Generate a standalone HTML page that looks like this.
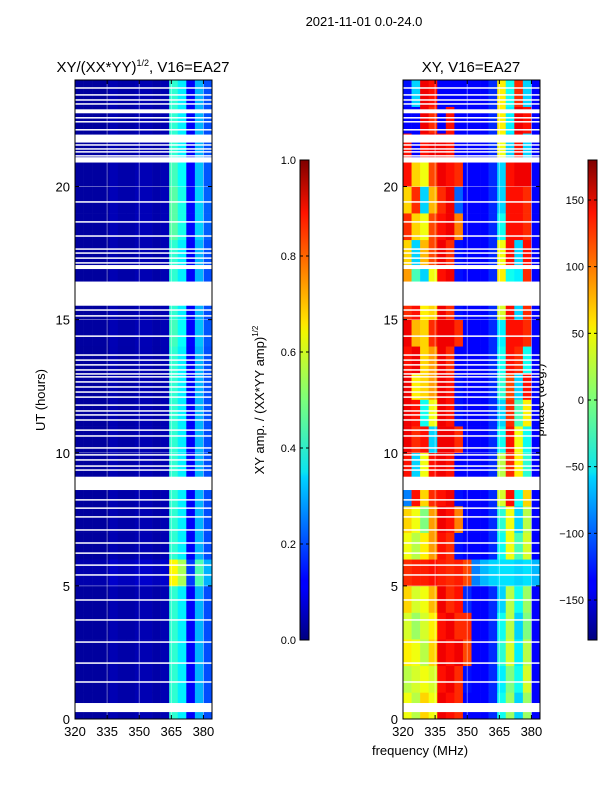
<!DOCTYPE html>
<html><head><meta charset="utf-8"><style>
body{margin:0;background:#fff;}
svg text{font-family:"Liberation Sans",sans-serif;fill:#000;}
</style></head><body>
<svg id="fig" width="600" height="800" xmlns="http://www.w3.org/2000/svg">
<defs>
<linearGradient id="jet" x1="0" y1="1" x2="0" y2="0">
<stop offset="0" stop-color="#00007f"/><stop offset="0.11" stop-color="#0000ff"/><stop offset="0.125" stop-color="#0000ff"/>
<stop offset="0.34" stop-color="#00d4ff"/><stop offset="0.35" stop-color="#0ae4f0"/><stop offset="0.5" stop-color="#7bff7b"/>
<stop offset="0.64" stop-color="#f0f700"/><stop offset="0.66" stop-color="#ffe600"/><stop offset="0.89" stop-color="#ff1300"/>
<stop offset="1" stop-color="#7f0000"/></linearGradient>
</defs>
<text x="364" y="26" font-size="13" text-anchor="middle">2021-11-01 0.0-24.0</text>
<text x="143" y="72" font-size="15" text-anchor="middle">XY/(XX*YY)<tspan font-size="9" dy="-6">1/2</tspan><tspan dy="6">, V16=EA27</tspan></text>
<text x="471" y="72" font-size="15" text-anchor="middle">XY, V16=EA27</text>
<text x="45" y="400" font-size="13" text-anchor="middle" transform="rotate(-90 45 400)">UT (hours)</text>
<text x="420" y="755" font-size="13" text-anchor="middle">frequency (MHz)</text>
<text x="264" y="400" font-size="13" text-anchor="middle" transform="rotate(-90 264 400)">XY amp. / (XX*YY amp)<tspan font-size="8" dy="-6">1/2</tspan></text>
<text x="544" y="400" font-size="13" text-anchor="middle" transform="rotate(-90 544 400)">phase (deg.)</text>
<g id="left"></g>
<g id="right"></g>
<g id="cb"></g>
</svg>
<script>
const hourTicks=[0,5,10,15,20];
const freqTicks=[320,335,350,365,380];
const freqCols=[320,324,328,332,336,340,344,348,352,356,360,364,368,372,376,380];
const ampProfile=[0.03,0.03,0.03,0.03,0.05,0.04,0.04,0.05,0.05,0.04,0.05,0.42,0.36,0.12,0.30,0.20];
const ampRowGain=[1,1,1,1,1,1.5,1,1,1,1,1,1,1,1,1.05,1,1,1,1.1,1.1,1.05,1,1,1];
const phaseRows=[
[40,20,60,40,140,130,120,-135,-135,-135,-120,-40,10,-60,10,-135],
[20,30,40,30,130,140,120,-130,-135,-135,-120,-50,0,-40,30,-135],
[50,40,20,60,140,130,140,110,-135,-135,-120,-30,30,-50,20,-135],
[30,10,30,50,130,140,120,120,-135,-135,-120,-40,20,-60,0,-135],
[60,30,40,70,140,120,130,-120,-135,-135,-120,-60,20,-40,10,-135],
[120,125,125,130,125,120,125,110,-90,-70,-60,-55,-55,-60,-55,-70],
[40,20,50,80,130,120,-130,-135,-135,-135,-120,-40,40,-20,30,-135],
[60,40,0,80,140,130,90,-135,-135,-135,-120,-30,40,-60,20,-135],
[-90,130,60,120,130,140,-130,-135,-135,-135,-120,30,130,-40,60,-135],
[130,-60,40,130,140,130,-135,-135,-135,-135,-120,20,120,50,-30,-135],
[140,120,130,-60,140,140,120,-135,-135,-135,-120,-40,130,40,-40,-135],
[140,130,-40,40,140,130,-130,-135,-135,-135,-120,-60,120,-20,50,-135],
[140,50,60,80,140,130,-130,-135,-135,-135,-120,-30,110,-60,130,-135],
[130,140,60,80,140,120,-135,-135,-135,-135,-120,-40,130,120,-40,-135],
[140,70,60,120,140,140,120,-135,-135,-135,-120,-50,130,130,120,-135],
[120,130,50,60,140,120,-130,-135,-135,-135,-120,30,130,-60,120,-135],
[80,-20,-60,40,130,140,-130,-135,-135,-135,-120,50,-40,-50,120,-135],
[60,-60,70,110,140,120,-130,-135,-135,-135,-120,40,130,-60,130,-135],
[120,60,40,110,130,140,90,-135,-135,-135,-120,-40,130,130,120,-135],
[60,120,-60,70,120,140,-100,-135,-135,-135,-120,-60,130,130,120,-135],
[130,60,40,110,140,130,120,-135,-135,-135,-120,-60,130,140,140,-135],
[130,-135,130,140,140,130,-135,-135,-135,-135,-120,40,-60,130,-60,-135],
[-135,-135,140,120,-135,130,-135,-135,-135,-135,-120,50,-50,140,130,-135],
[-130,-60,140,130,-135,-135,-135,-135,-135,-135,-120,50,-40,120,-60,-135]];
const flagBlocks=[[0.26,0.6],[8.6,9.1],[15.56,16.43],[16.9,17.05],[20.9,21.1],[21.65,21.95],[22.75,22.9]];
const flagLines=[1.39,2.10,2.89,3.72,4.47,5.41,5.78,6.23,6.61,7.10,7.59,7.92,8.23,8.86,9.35,9.50,9.73,9.92,10.18,10.63,10.85,11.23,11.42,11.57,11.79,12.09,12.28,12.47,12.66,12.85,12.96,13.11,13.30,13.48,13.67,14.38,15.14,15.36,15.55,17.13,17.31,17.50,17.65,18.14,18.67,19.42,21.15,21.30,21.41,21.56,22.13,22.43,22.58,23.10,23.25,23.44,23.70];

const NS="http://www.w3.org/2000/svg";
function jet(v){v=Math.max(0,Math.min(1,v));
 const r=Math.min(4*v-1.5,-4*v+4.5),g=Math.min(4*v-0.5,-4*v+3.5),b=Math.min(4*v+0.5,-4*v+2.5);
 const c=x=>Math.round(255*Math.max(0,Math.min(1,x)));return `rgb(${c(r)},${c(g)},${c(b)})`;}
function el(tag,a,parent){const e=document.createElementNS(NS,tag);for(const k in a)e.setAttribute(k,a[k]);parent.appendChild(e);return e;}
const Y0=719,Y1=80,F0=320,F1=384,PW=137;
const yS=h=>Y0-(h/24)*(Y0-Y1);
function panel(gid,x0,valFn){
 const g=document.getElementById(gid);
 const xS=f=>x0+(f-F0)/(F1-F0)*PW;
 for(let r=0;r<24;r++)for(let c=0;c<freqCols.length;c++){
  const f=freqCols[c];
  const rc=el('rect',{x:xS(f),y:yS(r+1),width:xS(f+4)-xS(f)+0.3,height:yS(r)-yS(r+1)+0.3,fill:jet(valFn(r,c))},g);
  
  
 }
 flagBlocks.forEach(b=>{const rc=el('rect',{x:x0,y:yS(b[1]),width:PW,height:yS(b[0])-yS(b[1]),fill:'#fff'},g);
  
  });
 flagLines.forEach(h=>{const rc=el('rect',{x:x0,y:yS(h)-0.75,width:PW,height:1.5,fill:'#fff'},g);
  
  });
 freqTicks.forEach(f=>{el('line',{x1:xS(f),x2:xS(f),y1:Y1,y2:Y0,stroke:'#fff','stroke-opacity':0.5,'stroke-width':0.8},g);
  el('line',{x1:xS(f),x2:xS(f),y1:Y0,y2:Y0-4,stroke:'#000'},g);el('line',{x1:xS(f),x2:xS(f),y1:Y1,y2:Y1+4,stroke:'#000'},g);
  const t=el('text',{x:xS(f),y:736,'font-size':13,'text-anchor':'middle'},g);t.textContent=f;
  
  });
 hourTicks.forEach(h=>{el('line',{x1:x0,x2:x0+PW,y1:yS(h),y2:yS(h),stroke:'#fff','stroke-opacity':0.5,'stroke-width':0.8},g);
  el('line',{x1:x0,x2:x0+4,y1:yS(h),y2:yS(h),stroke:'#000'},g);el('line',{x1:x0+PW,x2:x0+PW-4,y1:yS(h),y2:yS(h),stroke:'#000'},g);
  const t=el('text',{x:x0-5,y:yS(h)+5,'font-size':13,'text-anchor':'end'},g);t.textContent=h;
  
  });
 el('rect',{x:x0,y:Y1,width:PW,height:Y0-Y1,fill:'none',stroke:'#000','stroke-width':1},g);
}
panel('left',75,(r,c)=>ampProfile[c]*ampRowGain[r]);
panel('right',403,(r,c)=>(phaseRows[r][c]+180)/360);
function cbar(x,lo,hi,ticks){
 const g=document.getElementById('cb');
 el('rect',{x:x,y:160,width:9,height:480,fill:'url(#jet)',stroke:'#000','stroke-width':1},g);
 ticks.forEach(v=>{const y=640-(v-lo)/(hi-lo)*480;
  el('line',{x1:x,x2:x+3,y1:y,y2:y,stroke:'#000'},g);el('line',{x1:x+9,x2:x+6,y1:y,y2:y,stroke:'#000'},g);
  const t=el('text',{x:x-4,y:y+4,'font-size':11,'text-anchor':'end'},g);t.textContent=(hi===1?v.toFixed(1):(v<0?'\u2212'+(-v):v));
  
  });
}
cbar(300,0,1,[0,0.2,0.4,0.6,0.8,1.0]);
cbar(588,-180,180,[-150,-100,-50,0,50,100,150]);
</script>
</body></html>
